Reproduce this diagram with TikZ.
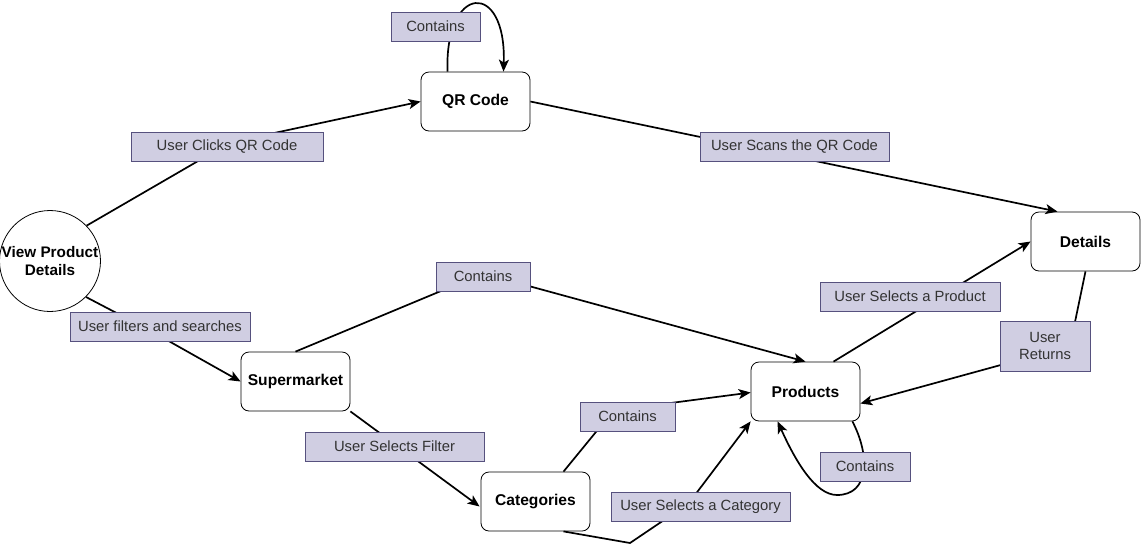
\documentclass[tikz,border=0pt]{standalone}
\usepackage{fontspec}
\setmainfont{Liberation Sans}
\usetikzlibrary{arrows.meta,calc}
\definecolor{lblfill}{HTML}{D0CEE2}
\definecolor{lbldraw}{HTML}{56517E}
\definecolor{lbltext}{HTML}{333333}
\pgfdeclarelayer{back}
\pgfdeclarelayer{bg}
\pgfsetlayers{back,bg,main}
\begin{document}
\begin{tikzpicture}[x=1pt,y=-1pt,
  box/.style={draw, rounded corners=8pt, minimum width=109pt, minimum height=59pt, inner sep=0pt,
    font=\bfseries\fontsize{15.6}{18}\selectfont, line width=0.8pt},
  circ/.style={draw, circle, minimum size=100pt, inner sep=0pt, align=center,
    font=\bfseries\fontsize{15.3}{18}\selectfont, line width=0.8pt},
  lbl/.style={draw=lbldraw, fill=lblfill, font=\fontsize{14.8}{17.5}\selectfont, text=lbltext,
    inner sep=0pt, minimum height=29pt, line width=0.8pt, align=center},
  edge/.style={line width=1.7pt, -{Stealth[length=12pt,width=10pt,inset=3pt]}}]
\useasboundingbox (0,0) rectangle (1141,550);
\begin{pgfonlayer}{back}
\fill[white] (0,0) rectangle (1141,550);
\end{pgfonlayer}

% nodes
\node[circ] (v) at (50,261) {View Product\\Details};
\node[box] (qr) at (475.5,101.5) {QR Code};
\node[box] (det) at (1085.5,241.5) {Details};
\node[box] (sup) at (295.5,381.5) {Supermarket};
\node[box] (prod) at (805.5,391.5) {Products};
\node[box] (cat) at (535.5,501.5) {Categories};

% labels
\node[lbl, minimum width=89pt] (l1) at (435.5,26.5) {Contains};
\node[lbl, minimum width=192pt] (l2) at (227,146.5) {User Clicks QR Code};
\node[lbl, minimum width=189pt] (l3) at (794.5,147) {User Scans the QR Code};
\node[lbl, minimum width=94pt] (l4) at (483,276.5) {Contains};
\node[lbl, minimum width=180pt] (l5) at (160,326.5) {User filters and searches};
\node[lbl, minimum width=180pt] (l6) at (910,296.5) {User Selects a Product};
\node[lbl, minimum width=90pt, minimum height=50pt] (l7) at (1045,346) {User\\Returns};
\node[lbl, minimum width=179pt] (l8) at (394.5,446.5) {User Selects Filter};
\node[lbl, minimum width=95pt] (l9) at (627.5,416.5) {Contains};
\node[lbl, minimum width=90pt] (l10) at (865,466.5) {Contains};
\node[lbl, minimum width=179pt] (l11) at (700.5,506.5) {User Selects a Category};

\begin{pgfonlayer}{bg}
% View -> QR Code (User Clicks QR Code)
\draw[edge] (v.44) -- ($(l2.center)+(3,-4)$) -- (qr.west);
% QR Code -> Details (User Scans the QR Code)
\draw[edge] (qr.east) -- ($(det.north)+(-28,0)$);
% QR self loop (Contains)
\draw[edge] ($(qr.north)+(-28,0)$) .. controls ($(qr.north)+(-31,-88)$) and ($(qr.north)+(31,-92)$) .. ($(qr.north)+(28,0)$);
% View -> Supermarket (User filters and searches)
\draw[edge] (v.-45) -- ($(l5.center)+(-10,4)$) -- (sup.west);
% Supermarket -> Products (Contains)
\draw[edge] (sup.north) -- ($(l4.center)+(0,-3)$) -- (prod.north);
% Supermarket -> Categories (User Selects Filter)
\draw[edge] (sup.south east) -- ($(cat.west)+(-1,5)$);
% Categories -> Products (Contains)
\draw[edge] ($(cat.north)+(28,0)$) -- ($(l9.center)+(-14,-6)$) -- ($(prod.west)+(0,1)$);
% Categories -> Products (User Selects a Category)
\coordinate (k1) at (630,543);
\draw[edge] ($(cat.south)+(28,0)$) -- (k1) -- ($(l11.center)+(-12,-3)$) -- (prod.south west);
% Products self loop (Contains)
\draw[edge] ($(prod.south east)+(-8,0)$) .. controls (870,455) and (870,495) .. (837,495)
  .. controls (815,495) and (795,460) .. ($(prod.south west)+(27,0)$);
% Products -> Details (User Selects a Product)
\draw[edge] ($(prod.north)+(28,0)$) -- (det.west);
% Details -> Products (User Returns)
\draw[edge] (det.south) -- ($(l7.center)+(25,0)$) -- ($(prod.east)+(0,12)$);
\end{pgfonlayer}
\end{tikzpicture}
\end{document}
